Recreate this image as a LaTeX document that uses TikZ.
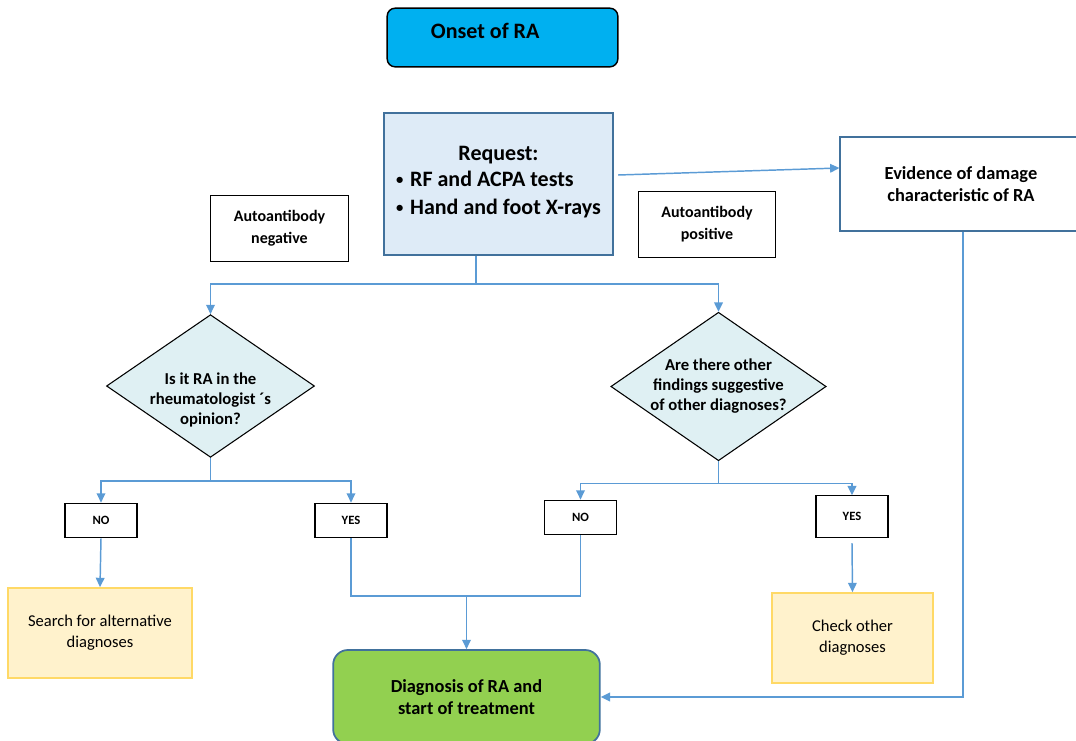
\documentclass[tikz,border=0pt]{standalone}
\usepackage{fontspec}
\setmainfont{Carlito}
\usepackage{xcolor}
\usetikzlibrary{shapes.geometric, arrows.meta, positioning}
\definecolor{linkblue}{HTML}{5B9BD5}
\definecolor{frameblue}{HTML}{41719C}
\definecolor{onsetfill}{HTML}{00B0F0}
\definecolor{reqfill}{HTML}{DEEBF7}
\definecolor{askfill}{HTML}{DFF0F3}
\definecolor{altfill}{HTML}{FFF2CC}
\definecolor{altedge}{HTML}{FFD966}
\definecolor{diagfill}{HTML}{92D050}
\newcommand{\reqbullet}{\raisebox{1.5pt}{\fontsize{11}{11}\selectfont•}\hspace{5pt}}
\tikzstyle{block} = [rectangle, draw=black, line width=0.8pt,
    text centered, align=center, inner sep=2pt]
\tikzstyle{tagblock} = [block, minimum width=103pt, minimum height=49pt,
    font=\fontsize{12}{16.5}\selectfont\bfseries]
\tikzstyle{answer} = [block, minimum width=54pt, minimum height=26pt,
    font=\fontsize{9.5}{11}\selectfont\bfseries]
\tikzstyle{asktext} = [align=center, font=\fontsize{12.5}{15}\selectfont\bfseries]
\tikzstyle{question} = [diamond, draw=black, fill=askfill, line width=0.8pt,
    aspect=1.45, inner sep=0pt, minimum width=156pt, minimum height=107pt, asktext]
\tikzstyle{altblock} = [block, draw=altedge, fill=altfill, line width=1.3pt,
    minimum height=67.5pt, font=\fontsize{12.4}{15.75}\selectfont]
\tikzstyle{arrow} = [-{Triangle[length=7pt,width=6.5pt]}, linkblue, line width=1.1pt]
\tikzstyle{link} = [linkblue, line width=1.1pt]

\begin{document}
\begin{tikzpicture}[x=0.75pt, y=-0.75pt]
  \useasboundingbox (0,0) rectangle (1076,740);

  \node[block, fill=onsetfill, rounded corners=6pt, line width=1.1pt,
    minimum width=173pt, minimum height=44pt,
    label={[font=\fontsize{16.5}{20}\selectfont\bfseries, shift={(-13pt,5pt)}]center:Onset of RA}]
    (onset) at (502.5,37.5) {};
  \node[block, draw=frameblue, fill=reqfill, line width=1.3pt,
    minimum width=172pt, minimum height=106.5pt,
    font=\fontsize{16.5}{20}\selectfont\bfseries]
    (request) at (498.5,184) {Request:\\[2pt]
    \begin{tabular}{@{}l@{}}\reqbullet RF and ACPA tests\\[1pt] \reqbullet Hand and foot X-rays\end{tabular}};
  \node[block, draw=frameblue, line width=1.3pt,
    minimum width=181pt, minimum height=70.5pt,
    font=\fontsize{13.8}{17}\selectfont\bfseries]
    (evidence) at (961,184) {Evidence of damage\\characteristic of RA};
  \node[tagblock] (neg) at (279.5,228.5) {Autoantibody\\negative};
  \node[tagblock] (pos) at (707,224.5) {Autoantibody\\positive};

  \node[question,
    label={[asktext, yshift=-10.5pt]center:Is it RA in the\\rheumatologist ´s\\opinion?}]
    (ask1) at (210.5,386) {};
  \node[question] (ask2) at (718.5,386.5) {Are there other\\findings suggestive\\of other diagnoses?};

  \node[answer] (no1)  at (101,520.5)  {NO};
  \node[answer] (yes1) at (351,520.5)  {YES};
  \node[answer] (no2)  at (580.5,517.5) {NO};
  \node[answer, minimum height=31pt] (yes2) at (852,516.5) {YES};

  \node[altblock, minimum width=138pt] (search) at (100,633) {Search for alternative\\diagnoses};
  \node[altblock, minimum width=121pt] (check) at (852.5,638) {Check other\\diagnoses};
  \node[block, draw=frameblue, fill=diagfill, rounded corners=11pt, line width=1.3pt,
    minimum width=200pt, minimum height=70.5pt,
    font=\fontsize{13.8}{17}\selectfont\bfseries]
    (diag) at (466.5,697) {Diagnosis of RA and\\start of treatment};

  % request branches
  \draw[arrow] ([shift={(3pt,6.75pt)}]request.east) -- ([yshift=12pt]evidence.west);
  \draw[link] ([xshift=-17pt]request.south) -- ++(0,28) coordinate (split0);
  \draw[arrow] (split0) -| (ask1.north);
  \draw[arrow] (split0) -| (ask2.north);
  % answers
  \draw[link] (ask1.south) -- ++(0,23) coordinate (split1);
  \draw[arrow] (split1) -| (no1.north);
  \draw[arrow] (split1) -| (yes1.north);
  \draw[link] (ask2.south) -- ++(0,22) coordinate (split2);
  \draw[arrow] (split2) -| (no2.north);
  \draw[arrow] (split2) -| (yes2.north);
  \draw[arrow] (no1.south) -- (search.north);
  \draw[arrow] ([yshift=-4pt]yes2.south) -- (check.north);
  % merge to diagnosis
  \coordinate (join) at (466.5,596);
  \draw[link] (yes1.south) |- (join) -| (no2.south);
  \draw[arrow] (join) -- (diag.north);
  \draw[arrow] ([xshift=1.5pt]evidence.south) |- (diag.east);
\end{tikzpicture}
\end{document}
